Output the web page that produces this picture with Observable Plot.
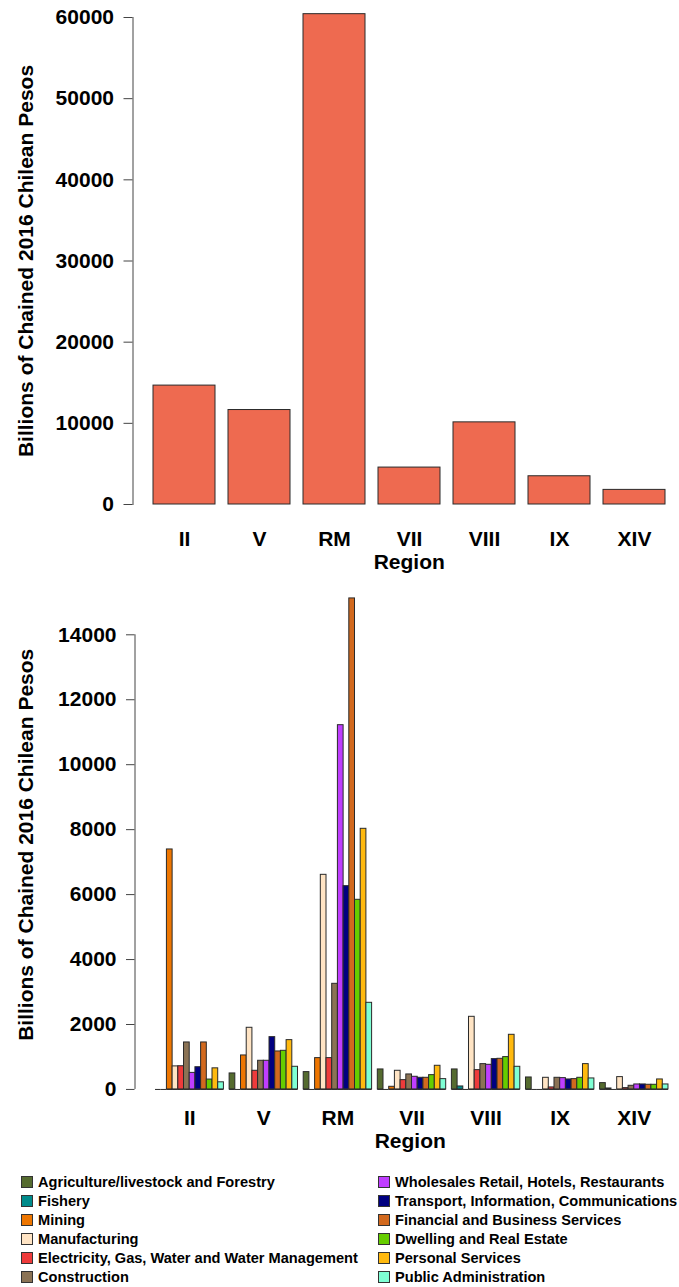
<!DOCTYPE html>
<html>
<head>
<meta charset="utf-8">
<script src="https://cdn.jsdelivr.net/npm/d3@7"></script>
<script src="https://cdn.jsdelivr.net/npm/@observablehq/plot@0.6"></script>
<style>
  html, body { margin: 0; padding: 0; background: #fff; }
  body { width: 679px; font-family: "Liberation Sans", Arial, sans-serif; }
  #charts svg { display: block; }
  #legend {
    display: grid;
    grid-auto-flow: column;
    grid-template-rows: repeat(6, 19px);
    grid-template-columns: 357px 300px;
    margin: 2px 0 0 21px;
    font-weight: bold;
    font-size: 14.6px;
    color: #000;
  }
  .item { display: flex; align-items: center; white-space: nowrap; }
  .sw { width: 10px; height: 10px; border: 1px solid #333; margin-right: 5px; flex: none; }
</style>
</head>
<body>
<div id="charts"></div>
<div id="legend"></div>
<script>
// ---------- data ----------
const regions = ["II", "V", "RM", "VII", "VIII", "IX", "XIV"];
const totalGDP = [14650, 11640, 60410, 4550, 10120, 3480, 1800];

const sectors = [
  "Agriculture/livestock and Forestry",
  "Fishery",
  "Mining",
  "Manufacturing",
  "Electricity, Gas, Water and Water Management",
  "Construction",
  "Wholesales Retail, Hotels, Restaurants",
  "Transport, Information, Communications",
  "Financial and Business Services",
  "Dwelling and Real Estate",
  "Personal Services",
  "Public Administration"
];
const sectorColors = [
  "#556B2F", "#008B8B", "#EE7600", "#FFE4C4", "#EE3B3B", "#8B7355",
  "#BF3EFF", "#000080", "#D2691E", "#66CD00", "#FFB90F", "#7FFFD4"
];

// sector values by region (same order as sectors)
const valuesII   = [0, 0, 7390, 710, 715, 1447, 510, 685, 1447, 305, 650, 220];
const valuesV    = [493, 0, 1047, 1899, 575, 883, 883, 1611, 1170, 1190, 1519, 698];
const valuesRM   = [534, 0, 965, 6609, 965, 3253, 11217, 6260, 15120, 5840, 8026, 2668];
const valuesVII  = [616, 0, 82, 575, 287, 462, 390, 359, 359, 441, 729, 318];
const valuesVIII = [616, 92, 0, 2237, 595, 780, 759, 934, 944, 996, 1683, 698];
const valuesIX   = [369, 0, 0, 359, 62, 359, 349, 308, 318, 359, 780, 339];
const valuesXIV  = [195, 30, 0, 380, 41, 113, 154, 154, 144, 144, 308, 154];
const regionValues = [valuesII, valuesV, valuesRM, valuesVII, valuesVIII, valuesIX, valuesXIV];

const yTicksTop = [0, 10000, 20000, 30000, 40000, 50000, 60000];
const yTicksBottom = [0, 2000, 4000, 6000, 8000, 10000, 12000, 14000];
const xTitle = "Region";
const yTitle = "Billions of Chained 2016 Chilean Pesos";

// ---------- shared style ----------
const W = 679;
const FONT = "'Liberation Sans', Arial, Helvetica, sans-serif";
const baseStyle = {fontFamily: FONT, fontSize: "21px", fontWeight: "bold", color: "#000", background: "#fff", overflow: "visible"};
const axisGrey = "#444";
const barStroke = "#2a2a2a";

// ---------- top chart: totals ----------
const topData = regions.map((r, i) => ({region: r, value: totalGDP[i]}));
const topChart = Plot.plot({
  width: W,
  height: 580,
  marginTop: 17,
  marginBottom: 76,
  marginLeft: 132.5,
  marginRight: 0,
  style: baseStyle,
  x: {type: "band", domain: regions, range: [132.5, 686], paddingInner: 0.2 / 1.2, paddingOuter: 0.328 / 1.2, align: 0.5},
  y: {domain: [0, 60000]},
  marks: [
    Plot.barY(topData, {x: "region", y: "value", fill: "#EE6A50", stroke: barStroke, strokeWidth: 1}),
    Plot.frame({anchor: "left", stroke: axisGrey}),
    Plot.axisY({ticks: yTicksTop, tickFormat: d => String(d), tickSize: 9, tickPadding: 10, stroke: axisGrey, label: null, fontSize: 21, fontWeight: "bold"}),
    Plot.axisX({tickSize: 0, tickPadding: 26.5, label: null, fontSize: 21, fontWeight: "bold"}),
    Plot.text([xTitle], {frameAnchor: "bottom", lineAnchor: "top", dy: 50, dx: 3, fontSize: 21, fontWeight: "bold"}),
    Plot.text([yTitle], {frameAnchor: "left", rotate: -90, textAnchor: "middle", lineAnchor: "middle", dx: -107, fontSize: 21, fontWeight: "bold"})
  ]
});

// ---------- bottom chart: grouped by sector ----------
const perGroup = sectors.length + 1; // one empty slot between groups (R beside=TRUE, space=c(0,1))
const bars = regions.flatMap((r, g) => sectors.map((s, k) => ({
  region: r, sector: s, value: regionValues[g][k],
  x1: g * perGroup + k + 1, x2: g * perGroup + k + 2
})));
const groupCenters = regions.map((r, g) => g * perGroup + 1 + sectors.length / 2);
const centerToRegion = new Map(groupCenters.map((c, g) => [c, regions[g]]));
const xMin = d3.min(bars, d => d.x1), xMax = d3.max(bars, d => d.x2);
const xPad = 0.04 * (xMax - xMin);

const bottomH = 590;
const bottomChart = Plot.plot({
  width: W,
  height: bottomH,
  marginTop: 0,
  marginBottom: bottomH - 528.6,
  marginLeft: 134.5,
  marginRight: 0,
  style: baseStyle,
  x: {type: "linear", domain: [xMin - xPad, xMax + xPad], range: [134.5, 688.5]},
  y: {domain: [-605, 15672]},
  color: {domain: sectors, range: sectorColors},
  marks: [
    Plot.rect(bars, {x1: "x1", x2: "x2", y1: 0, y2: "value", fill: "sector", stroke: barStroke, strokeWidth: 1}),
    Plot.ruleY(bars, {x1: "x1", x2: "x2", y: 0, stroke: barStroke, strokeWidth: 1}),
    Plot.ruleX([xMin - xPad], {y1: yTicksBottom[0], y2: yTicksBottom[yTicksBottom.length - 1], stroke: axisGrey}),
    Plot.axisY({ticks: yTicksBottom, tickFormat: d => String(d), tickSize: 8.5, tickPadding: 10, stroke: axisGrey, label: null, fontSize: 21, fontWeight: "bold"}),
    Plot.axisX({ticks: groupCenters, tickFormat: d => centerToRegion.get(d), tickSize: 0, tickPadding: 0.5, label: null, fontSize: 21, fontWeight: "bold"}),
    Plot.text([xTitle], {frameAnchor: "bottom", lineAnchor: "top", dy: 24.4, dx: 3, fontSize: 21, fontWeight: "bold"}),
    Plot.text([yTitle], {frameAnchor: "left", rotate: -90, textAnchor: "middle", lineAnchor: "middle", dx: -109, fontSize: 21, fontWeight: "bold"})
  ]
});

const charts = document.getElementById("charts");
charts.appendChild(topChart);
charts.appendChild(bottomChart);

// ---------- legend ----------
const legend = document.getElementById("legend");
sectors.forEach((s, i) => {
  const item = document.createElement("div");
  item.className = "item";
  const sw = document.createElement("span");
  sw.className = "sw";
  sw.style.background = sectorColors[i];
  const label = document.createElement("span");
  label.textContent = s;
  item.appendChild(sw);
  item.appendChild(label);
  legend.appendChild(item);
});
</script>
</body>
</html>
